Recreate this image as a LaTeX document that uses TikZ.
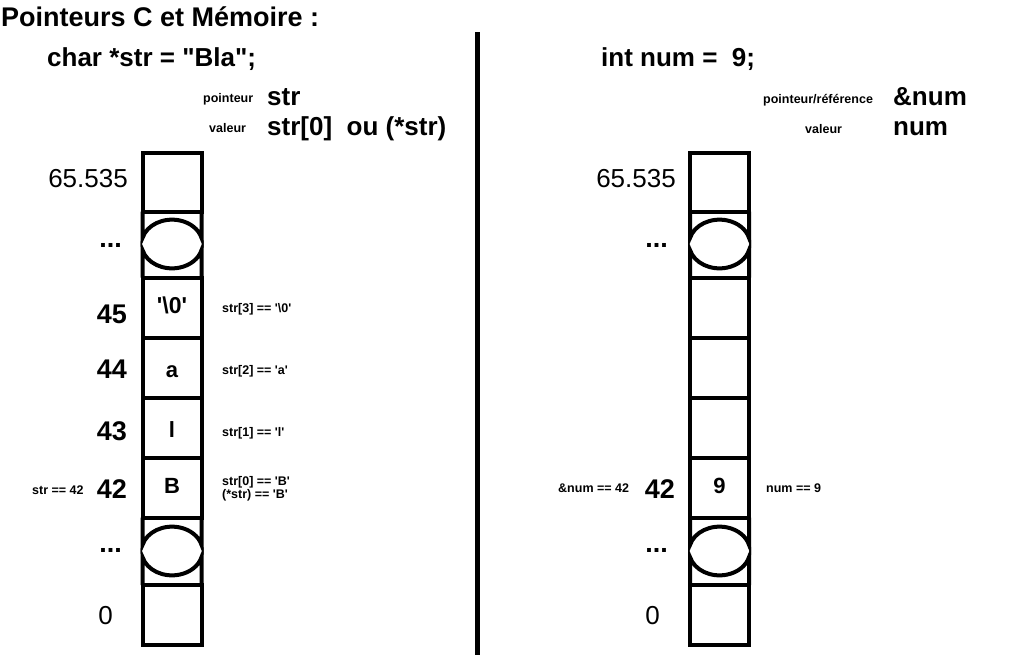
\documentclass[tikz,border=0pt]{standalone}
\usepackage{fontspec}
\setmainfont{Liberation Sans}[Ligatures=TeXOff]
\tikzset{
  wall/.style={line width=4pt},
  cellule/.style={draw, wall, minimum width=59pt, minimum height=60pt, inner sep=0pt, outer sep=0pt},
  contenu/.style={inner sep=0pt, anchor=base, font=\bfseries\fontsize{22}{24}\selectfont},
  grand/.style={inner sep=0pt, anchor=base west, font=\bfseries\fontsize{26}{28}\selectfont},
  adr/.style={inner sep=0pt, anchor=base east, font=\bfseries\fontsize{27}{28}\selectfont},
  fin/.style={inner sep=0pt, anchor=base east, font=\fontsize{26}{28}\selectfont},
  petit/.style={inner sep=0pt, anchor=base west, font=\bfseries\fontsize{12.5}{13}\selectfont}
}
\begin{document}
\begin{tikzpicture}[x=1pt,y=-1pt]
  \useasboundingbox (0,0) rectangle (1030,662);
  % titres
  \node[grand, font=\bfseries\fontsize{27}{28}\selectfont] (titre) at (1,26) {Pointeurs C et Mémoire :};
  \node[grand] (codestr) at (47,66) {char *str = "Bla";};
  \node[grand] (codenum) at (601,66) {int num = \ 9;};
  \coordinate (sephaut) at (477.5,32);
  \coordinate (sepbas) at (477.5,655);
  \draw[line width=4.5pt] (sephaut) -- (sepbas);
  % legende gauche
  \node[petit] (lpointeur) at (203,102) {pointeur};
  \node[grand] (lstr) at (267,105) {str};
  \node[petit] (lvaleur) at (209,132) {valeur};
  \node[grand] (lval) at (267,135) {str[0]\ \ ou (*str)};
  % legende droite
  \node[petit] (rpointeur) at (763,103) {pointeur/référence};
  \node[grand] (rnum) at (893,105) {\&num};
  \node[petit] (rvaleur) at (805,133) {valeur};
  \node[grand] (rval) at (893,135) {num};

  % colonne str
  \node[cellule, minimum height=59pt] (s65) at (172,182) {};
  \node[cellule] (s45) at (172,307.5) {};
  \node[cellule] (s44) at (172,367.5) {};
  \node[cellule] (s43) at (172,427.5) {};
  \node[cellule] (s42) at (172,487.5) {};
  \node[cellule] (s0) at (172,615) {};
  \node[contenu, font=\bfseries\fontsize{23}{24}\selectfont] (t45) at (172,313) {'\textbackslash 0'};
  \node[contenu] (t44) at (172,377) {a};
  \node[contenu] (t43) at (172,437) {l};
  \node[contenu] (t42) at (172,493) {B};
  \draw[wall] (s65.south west) -- (142.5,238) arc[start angle=194.5, end angle=345.5, x radius=30.5, y radius=24.5] -- (s65.south east);
  \draw[wall] (s45.north west) -- (142.5,250) arc[start angle=165.5, end angle=14.5, x radius=30.5, y radius=24.5] -- (s45.north east);
  \draw[wall] (s42.south west) -- (142.5,545) arc[start angle=194.5, end angle=345.5, x radius=30.5, y radius=24.5] -- (s42.south east);
  \draw[wall] (s0.north west) -- (142.5,557) arc[start angle=165.5, end angle=14.5, x radius=30.5, y radius=24.5] -- (s0.north east);
  \node[fin] (sa65) at (128,187) {65.535};
  \node[adr] (sdots1) at (122,247) {...};
  \node[adr] (sa45) at (127,323) {45};
  \node[adr] (sa44) at (127,378) {44};
  \node[adr] (sa43) at (127,440) {43};
  \node[adr] (sa42) at (127,498) {42};
  \node[adr] (sdots2) at (122,552) {...};
  \node[fin] (sa0) at (113,624) {0};
  \node[petit] (sptr) at (32,494) {str == 42};
  \node[petit] (sv3) at (222,312) {str[3] == '\textbackslash 0'};
  \node[petit] (sv2) at (222,374) {str[2] == 'a'};
  \node[petit] (sv1) at (222,436) {str[1] == 'l'};
  \node[petit] (sv0) at (222,485) {str[0] == 'B'};
  \node[petit] (sv0b) at (222,498) {(*str) == 'B'};

  % colonne num
  \node[cellule, minimum height=59pt] (n65) at (719.5,182) {};
  \foreach \y/\nom in {307.5/n45, 367.5/n44, 427.5/n43, 487.5/n42}
    \node[cellule] (\nom) at (719.5,\y) {};
  \node[cellule] (n0) at (719.5,615) {};
  \node[contenu] (m42) at (719.5,493) {9};
  \draw[wall] (n65.south west) -- (690,238) arc[start angle=194.5, end angle=345.5, x radius=30.5, y radius=24.5] -- (n65.south east);
  \draw[wall] (n45.north west) -- (690,250) arc[start angle=165.5, end angle=14.5, x radius=30.5, y radius=24.5] -- (n45.north east);
  \draw[wall] (n42.south west) -- (690,545) arc[start angle=194.5, end angle=345.5, x radius=30.5, y radius=24.5] -- (n42.south east);
  \draw[wall] (n0.north west) -- (690,557) arc[start angle=165.5, end angle=14.5, x radius=30.5, y radius=24.5] -- (n0.north east);
  \node[fin] (na65) at (676,187) {65.535};
  \node[adr] (ndots1) at (668,247) {...};
  \node[adr] (na42) at (675,498) {42};
  \node[adr] (ndots2) at (668,552) {...};
  \node[fin] (na0) at (660,624) {0};
  \node[petit] (nptr) at (558,492) {\&num == 42};
  \node[petit] (nval) at (766,492) {num == 9};
\end{tikzpicture}
\end{document}
